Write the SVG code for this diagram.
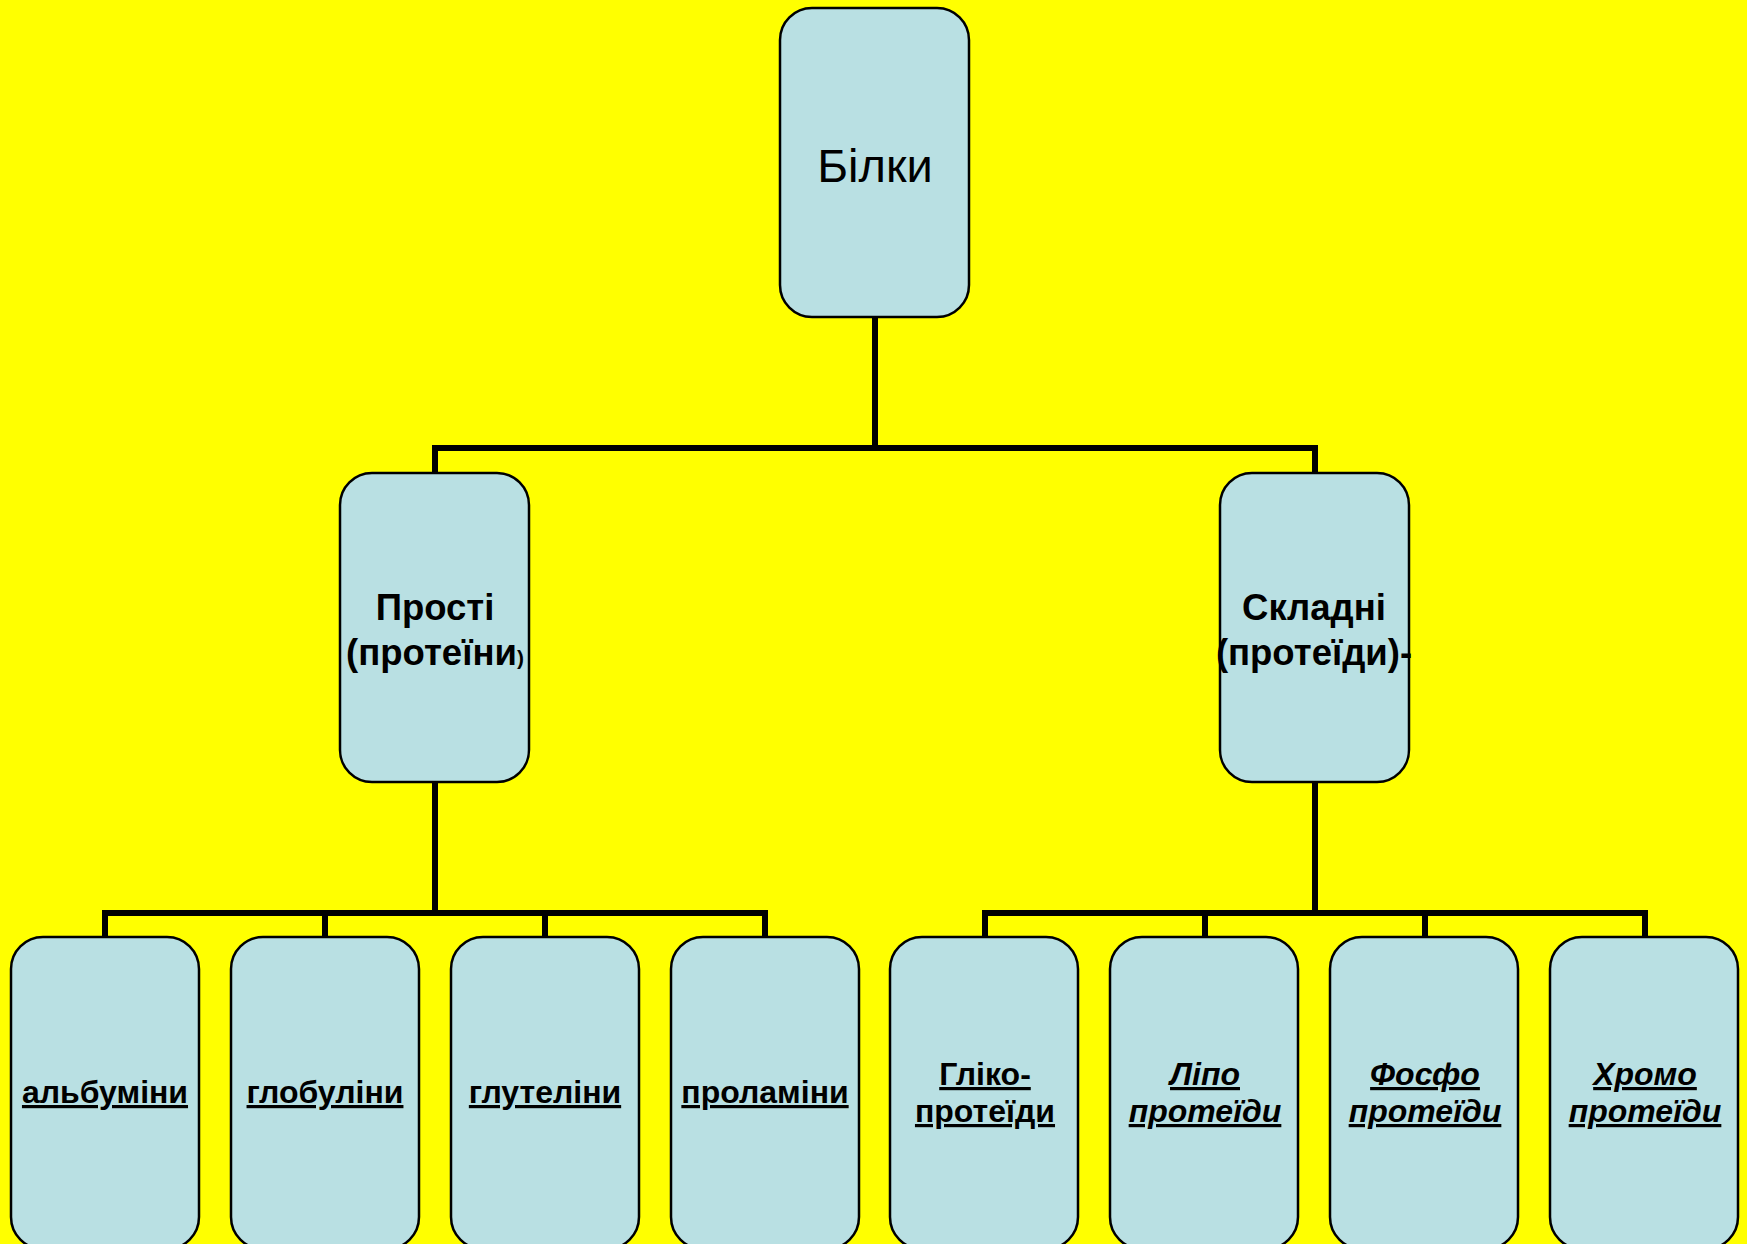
<svg xmlns="http://www.w3.org/2000/svg" width="1747" height="1244" viewBox="0 0 1747 1244">
<style>
.box{fill:#B9E0E3;stroke:#000;stroke-width:2.5}
.conn{fill:none;stroke:#000;stroke-width:6;stroke-linejoin:miter}
.t{font-family:"Liberation Sans",Arial,sans-serif;fill:#000;text-anchor:middle}
.b{font-weight:bold;font-size:32px}
.m{font-weight:bold;font-size:36.5px}
.u{text-decoration:underline}
.i{font-style:italic}
</style>
<rect x="0" y="0" width="1747" height="1244" fill="#FFFF00"/>
<g id="connectors">
<path class="conn" d="M875 317V448M435 472V448H1315V472"/>
<path class="conn" d="M435 782V913M105 937V913H765V937M325 913V937M545 913V937"/>
<path class="conn" d="M1315 782V913M985 937V913H1645V937M1205 913V937M1425 913V937"/>
</g>
<g id="n-bilky">
<rect class="box" x="780" y="8" width="189" height="309" rx="32"/>
<text class="t" x="875" y="182" font-size="47">Білки</text>
</g>
<g id="n-prosti">
<rect class="box" x="340" y="473" width="189" height="309" rx="32"/>
<text class="t m" x="435" y="620">Прості</text>
<text class="t m" x="435" y="665">(протеїни<tspan font-size="21">)</tspan></text>
</g>
<g id="n-skladni">
<rect class="box" x="1220" y="473" width="189" height="309" rx="32"/>
<text class="t m" x="1314" y="620">Складні</text>
<text class="t m" x="1314" y="665">(протеїди)-</text>
</g>
<g id="n-albumins">
<rect class="box" x="11" y="937" width="188" height="312" rx="32"/>
<text class="t b u" x="105" y="1103">альбуміни</text>
</g>
<g id="n-globulins">
<rect class="box" x="231" y="937" width="188" height="312" rx="32"/>
<text class="t b u" x="325" y="1103">глобуліни</text>
</g>
<g id="n-glutelins">
<rect class="box" x="451" y="937" width="188" height="312" rx="32"/>
<text class="t b u" x="545" y="1103">глутеліни</text>
</g>
<g id="n-prolamins">
<rect class="box" x="671" y="937" width="188" height="312" rx="32"/>
<text class="t b u" x="765" y="1103">проламіни</text>
</g>
<g id="n-gliko">
<rect class="box" x="890" y="937" width="188" height="312" rx="32"/>
<text class="t b u" x="985" y="1085">Гліко-</text>
<text class="t b u" x="985" y="1122">протеїди</text>
</g>
<g id="n-lipo">
<rect class="box" x="1110" y="937" width="188" height="312" rx="32"/>
<text class="t b u i" x="1205" y="1085">Ліпо</text>
<text class="t b u i" x="1205" y="1122">протеїди</text>
</g>
<g id="n-fosfo">
<rect class="box" x="1330" y="937" width="188" height="312" rx="32"/>
<text class="t b u i" x="1425" y="1085">Фосфо</text>
<text class="t b u i" x="1425" y="1122">протеїди</text>
</g>
<g id="n-khromo">
<rect class="box" x="1550" y="937" width="188" height="312" rx="32"/>
<text class="t b u i" x="1645" y="1085">Хромо</text>
<text class="t b u i" x="1645" y="1122">протеїди</text>
</g>
</svg>
